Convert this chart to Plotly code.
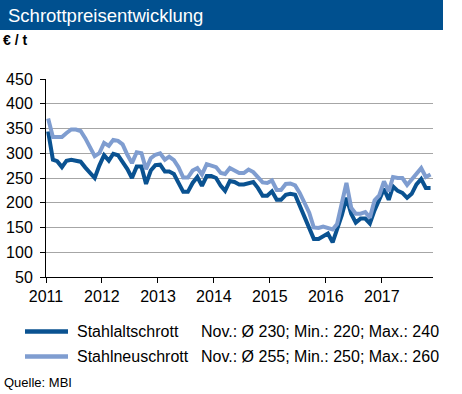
import plotly.graph_objects as go
import pandas as pd

# ---- data ----
months = pd.date_range("2011-01-01", "2017-11-01", freq="MS") + pd.Timedelta(days=14)

stahlalt = [344, 287, 284, 272, 285, 287, 285, 283, 271, 261, 250, 275,
            296, 285, 299, 296, 283, 268, 250, 273, 273, 238, 265, 276,
            277, 263, 263, 258, 240, 222, 222, 240, 252, 234, 254, 254,
            250, 234, 224, 244, 242, 237, 237, 239, 242, 230, 214, 214,
            223, 206, 206, 216, 218, 216, 195, 172, 150, 127, 127, 133,
            138, 120, 145, 175, 210, 178, 160, 168, 168, 158, 185, 206,
            228, 206, 233, 224, 220, 210, 218, 237, 248, 230, 230]

stahlneu = [370, 333, 333, 333, 341, 348, 348, 345, 330, 311, 294, 300,
            321, 315, 327, 325, 318, 297, 280, 302, 300, 268, 290, 297,
            300, 287, 293, 286, 272, 251, 251, 265, 270, 257, 278, 275,
            272, 260, 258, 270, 264, 260, 260, 267, 262, 252, 241, 240,
            245, 226, 226, 238, 239, 235, 220, 200, 180, 150, 149, 152,
            150, 146, 157, 200, 240, 190, 178, 178, 181, 170, 205, 215,
            243, 223, 252, 250, 250, 236, 247, 261, 270, 252, 257]

series_names = ["Stahlaltschrott", "Stahlneuschrott"]
series_stats = ["Nov.: Ø 230; Min.: 220; Max.: 240",
                "Nov.: Ø 255; Min.: 250; Max.: 260"]
year_ticks = ["2011-01-01", "2012-01-01", "2013-01-01", "2014-01-01",
              "2015-01-01", "2016-01-01", "2017-01-01"]
year_labels = ["2011", "2012", "2013", "2014", "2015", "2016", "2017"]
y_ticks = [50, 100, 150, 200, 250, 300, 350, 400, 450]

# ---- style ----
W, H = 462, 394
L, R, T, B = 46, 433, 79, 277
DARK = "#0A5291"
LIGHT = "#7F9DD0"
BAR = "#00508F"
FONT = "Arial, Liberation Sans, sans-serif"


def px(x):
    return (x - L) / (R - L)


def py(y):
    return (B - y) / (B - T)


fig = go.Figure()
fig.add_trace(go.Scatter(x=months, y=stahlalt, mode="lines", name=series_names[0],
                         line=dict(color=DARK, width=4), hoverinfo="skip"))
fig.add_trace(go.Scatter(x=months, y=stahlneu, mode="lines", name=series_names[1],
                         line=dict(color=LIGHT, width=4), hoverinfo="skip"))

shapes = [
    dict(type="rect", xref="paper", yref="paper", x0=px(0), x1=px(443), y0=py(30), y1=py(0),
         fillcolor=BAR, line=dict(width=0), layer="below"),
    dict(type="line", xref="paper", yref="paper", x0=px(25), x1=px(68), y0=py(331.5), y1=py(331.5),
         line=dict(color=DARK, width=4.5)),
    dict(type="line", xref="paper", yref="paper", x0=px(25), x1=px(68), y0=py(356.5), y1=py(356.5),
         line=dict(color=LIGHT, width=4.5)),
]

annotations = [
    dict(text="Schrottpreisentwicklung", x=px(6), y=py(15.5), xref="paper", yref="paper",
         xanchor="left", yanchor="middle", showarrow=False,
         font=dict(family=FONT, size=18.5, color="white")),
    dict(text="<b>€ / t</b>", x=px(1), y=py(40), xref="paper", yref="paper",
         xanchor="left", yanchor="middle", showarrow=False,
         font=dict(family=FONT, size=14, color="black")),
    dict(text=series_names[0], x=px(75), y=py(331.5), xref="paper", yref="paper",
         xanchor="left", yanchor="middle", showarrow=False,
         font=dict(family=FONT, size=16, color="black")),
    dict(text=series_stats[0], x=px(198.5), y=py(331.5), xref="paper", yref="paper",
         xanchor="left", yanchor="middle", showarrow=False,
         font=dict(family=FONT, size=16, color="black")),
    dict(text=series_names[1], x=px(75), y=py(356.5), xref="paper", yref="paper",
         xanchor="left", yanchor="middle", showarrow=False,
         font=dict(family=FONT, size=16, color="black")),
    dict(text=series_stats[1], x=px(198.5), y=py(356.5), xref="paper", yref="paper",
         xanchor="left", yanchor="middle", showarrow=False,
         font=dict(family=FONT, size=16, color="black")),
    dict(text="Quelle: MBI", x=px(2), y=py(382.5), xref="paper", yref="paper",
         xanchor="left", yanchor="middle", showarrow=False,
         font=dict(family=FONT, size=13, color="black")),
]

fig.update_layout(
    width=W, height=H,
    margin=dict(l=L, r=W - R, t=T, b=H - B, pad=0),
    paper_bgcolor="white", plot_bgcolor="white",
    showlegend=False,
    font=dict(family=FONT, size=16, color="black"),
    shapes=shapes, annotations=annotations,
    xaxis=dict(type="date", range=["2011-01-01", "2017-12-01"],
               tickmode="array", tickvals=year_ticks, ticktext=year_labels,
               ticks="outside", ticklen=5, tickwidth=1, tickcolor="black",
               showline=True, linecolor="black", linewidth=1,
               showgrid=False, zeroline=False, automargin=False,
               tickfont=dict(family=FONT, size=16, color="black")),
    yaxis=dict(range=[50, 450], tickmode="array", tickvals=y_ticks,
               ticks="outside", ticklen=5, tickwidth=1, tickcolor="black",
               showline=True, linecolor="black", linewidth=1,
               showgrid=True, gridcolor="#A6A6A6", gridwidth=1,
               zeroline=False, automargin=False, ticklabelstandoff=4,
               tickfont=dict(family=FONT, size=16, color="black")),
)

fig.write_html(
    "out.html",
    config={"staticPlot": True},
    post_script="document.body.style.margin='0px';document.body.style.overflow='hidden';",
)
